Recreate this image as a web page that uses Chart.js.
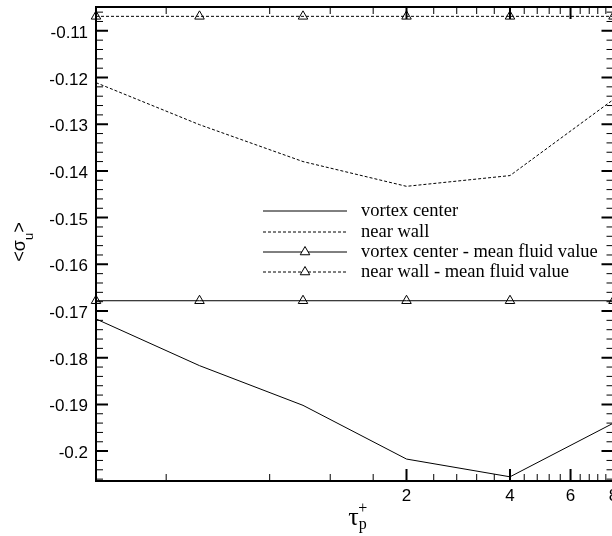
<!DOCTYPE html>
<html>
<head>
<meta charset="utf-8">
<script src="https://cdn.jsdelivr.net/npm/chart.js@4/dist/chart.umd.min.js"></script>
<style>
  html, body { margin: 0; padding: 0; overflow: hidden; background: #fff; }
</style>
</head>
<body>
<canvas id="chart" width="620" height="536"></canvas>
<script>
// datos
var tauP = [0.25, 0.5, 1, 2, 4, 8];
var vortexCenter = [-0.1717, -0.1817, -0.1902, -0.2017, -0.2055, -0.1940];
var nearWall = [-0.1211, -0.1301, -0.1380, -0.1433, -0.1410, -0.1247];
var vortexCenterMean = [-0.1678, -0.1678, -0.1678, -0.1678, -0.1678, -0.1678];
var nearWallMean = [-0.1069, -0.1069, -0.1069, -0.1069, -0.1069, -0.1069];
var seriesNames = ['vortex center', 'near wall', 'vortex center - mean fluid value', 'near wall - mean fluid value'];

var xTickValues = [0.4, 0.8, 1.2, 1.6, 2, 2.4, 2.8, 3.2, 3.6, 4, 4.4, 4.8, 5.2, 5.6, 6, 6.4, 6.8, 7.2, 7.6, 8];
var xTickLabels = [2, 4, 6, 8];
var yTickLabels = [-0.11, -0.12, -0.13, -0.14, -0.15, -0.16, -0.17, -0.18, -0.19, -0.2];
var yMinorStep = 0.002;
var xRange = [0.25, 8];
var yRange = [-0.2064, -0.1049];

function pts(ys) {
    return tauP.map(function (x, i) { return { x: x, y: ys[i] }; });
}
function near(a, b) { return Math.abs(a - b) < 1e-7; }
function isLabeled(list, v) {
    for (var i = 0; i < list.length; i++) if (near(list[i], v)) return list[i];
    return null;
}

var marcoPlugin = {
    id: 'marco',
    afterDraw: function (chart) {
        var ctx = chart.ctx, a = chart.chartArea;
        var xs = chart.scales.x, ys = chart.scales.y;
        ctx.save();
        ctx.strokeStyle = '#000';
        ctx.fillStyle = '#000';
        ctx.setLineDash([]);
        ctx.font = '17px "Liberation Sans"';

        // ticks hacia dentro, abajo/arriba + etiquetas
        xs.ticks.forEach(function (t) {
            var px = xs.getPixelForValue(t.value);
            var lab = isLabeled(xTickLabels, t.value);
            var major = lab !== null;
            var len = major ? 12 : 7;
            ctx.lineWidth = major ? 2 : 1;
            ctx.beginPath();
            ctx.moveTo(px, a.bottom); ctx.lineTo(px, a.bottom - len);
            ctx.moveTo(px, a.top); ctx.lineTo(px, a.top + len);
            ctx.stroke();
            if (major) {
                ctx.textAlign = 'center';
                ctx.textBaseline = 'alphabetic';
                ctx.fillText(String(lab), px, a.bottom + 20);
            }
        });
        // ticks izquierda/derecha + etiquetas
        ys.ticks.forEach(function (t) {
            var py = ys.getPixelForValue(t.value);
            var lab = isLabeled(yTickLabels, t.value);
            var major = lab !== null;
            var len = major ? 12 : 7;
            ctx.lineWidth = major ? 2 : 1;
            ctx.beginPath();
            ctx.moveTo(a.left, py); ctx.lineTo(a.left + len, py);
            ctx.moveTo(a.right, py); ctx.lineTo(a.right - len, py);
            ctx.stroke();
            if (major) {
                ctx.textAlign = 'right';
                ctx.textBaseline = 'alphabetic';
                ctx.fillText(String(lab), a.left - 8, py + 7);
            }
        });
        ctx.lineWidth = 2;
        ctx.strokeRect(a.left, a.top, a.right - a.left, a.bottom - a.top);

        // titulo eje x: tau_p^+
        ctx.textBaseline = 'alphabetic';
        ctx.textAlign = 'left';
        var cx = (a.left + a.right) / 2;
        ctx.font = '26px "Liberation Serif"';
        var wt = ctx.measureText('τ').width;
        var x0 = cx + 4;
        ctx.fillText('τ', x0 - wt, 525);
        ctx.font = '16px "Liberation Serif"';
        ctx.fillText('p', x0, 529);
        ctx.fillText('+', x0 - 0.5, 513);

        // titulo eje y: <sigma_u>
        ctx.save();
        ctx.translate(25, (a.top + a.bottom) / 2 - 2);
        ctx.rotate(-Math.PI / 2);
        ctx.font = '18px "Liberation Sans"';
        var w1 = ctx.measureText('<σ').width;
        var w3 = ctx.measureText('>').width;
        ctx.font = '13px "Liberation Sans"';
        var w2 = ctx.measureText('u').width;
        var sx = -(w1 + w2 + w3) / 2;
        ctx.font = '18px "Liberation Sans"';
        ctx.fillText('<σ', sx, 0);
        ctx.fillText('>', sx + w1 + w2, 0);
        ctx.font = '13px "Liberation Sans"';
        ctx.fillText('u', sx + w1, 8);
        ctx.restore();

        // leyenda
        var rows = [211, 232, 252, 272];
        chart.data.datasets.forEach(function (ds, i) {
            var y = rows[i];
            ctx.lineWidth = 1;
            ctx.strokeStyle = '#000';
            ctx.setLineDash(ds.borderDash || []);
            ctx.beginPath();
            ctx.moveTo(263, y); ctx.lineTo(347, y);
            ctx.stroke();
            ctx.setLineDash([]);
            if (ds.pointRadius > 0) {
                ctx.fillStyle = '#fff';
                Chart.helpers.drawPoint(ctx, {
                    pointStyle: ds.pointStyle, radius: ds.pointRadius,
                    borderWidth: 1, rotation: 0
                }, 305, y);
            }
            ctx.fillStyle = '#000';
            ctx.font = '18.5px "Liberation Serif"';
            ctx.textAlign = 'left';
            ctx.fillText(ds.label, 361, y + 5);
        });
        ctx.restore();
    }
};

var ctx = document.getElementById('chart');
var chart = new Chart(ctx, {
    type: 'line',
    data: {
        datasets: [
            { label: seriesNames[0], data: pts(vortexCenter), borderColor: '#000', borderWidth: 1, pointRadius: 0 },
            { label: seriesNames[1], data: pts(nearWall), borderColor: '#000', borderWidth: 1, borderDash: [3, 2], pointRadius: 0 },
            { label: seriesNames[2], data: pts(vortexCenterMean), borderColor: '#000', borderWidth: 1, pointRadius: 5.5,
              pointStyle: 'triangle', pointBorderColor: '#000', pointBackgroundColor: 'rgba(0,0,0,0)', pointBorderWidth: 1 },
            { label: seriesNames[3], data: pts(nearWallMean), borderColor: '#000', borderWidth: 1, borderDash: [3, 2], pointRadius: 5.5,
              pointStyle: 'triangle', pointBorderColor: '#000', pointBackgroundColor: 'rgba(0,0,0,0)', pointBorderWidth: 1 }
        ]
    },
    options: {
        responsive: false,
        animation: false,
        layout: { padding: { left: 0, top: 7, right: 5, bottom: 0 } },
        elements: { line: { tension: 0 } },
        datasets: { line: { clip: false } },
        plugins: { legend: { display: false }, tooltip: { enabled: false } },
        scales: {
            x: {
                type: 'logarithmic',
                min: xRange[0], max: xRange[1],
                grid: { display: false, drawTicks: false },
                border: { display: false },
                afterBuildTicks: function (scale) {
                    scale.ticks = xTickValues.map(function (v) { return { value: v }; });
                },
                afterFit: function (scale) {
                    scale.height = 55;
                    scale.paddingLeft = 0; scale.paddingRight = 0;
                    scale.paddingTop = 0; scale.paddingBottom = 0;
                },
                ticks: { display: false }
            },
            y: {
                min: yRange[0], max: yRange[1],
                grid: { display: false, drawTicks: false },
                border: { display: false },
                afterBuildTicks: function (scale) {
                    var lista = [];
                    for (var k = Math.ceil(yRange[0] / yMinorStep); k * yMinorStep <= yRange[1]; k++) {
                        lista.push({ value: Math.round(k * yMinorStep * 1e6) / 1e6 });
                    }
                    scale.ticks = lista;
                },
                afterFit: function (scale) {
                    scale.width = 96;
                    scale.paddingLeft = 0; scale.paddingRight = 0;
                    scale.paddingTop = 0; scale.paddingBottom = 0;
                },
                ticks: { display: false }
            }
        }
    },
    plugins: [marcoPlugin]
});
</script>
</body>
</html>
